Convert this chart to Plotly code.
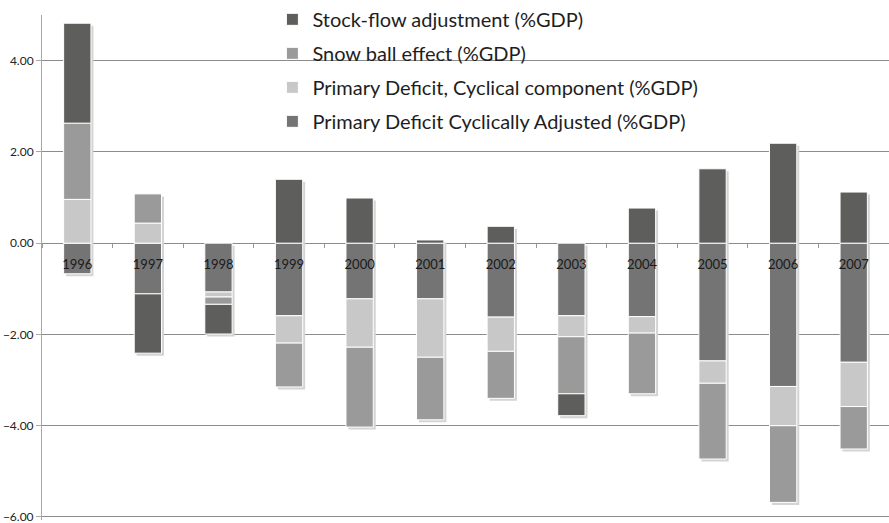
import plotly.graph_objects as go

years = ["1996", "1997", "1998", "1999", "2000", "2001", "2002", "2003", "2004", "2005", "2006", "2007"]
primary_ca = [-0.67, -1.11, -1.07, -1.59, -1.22, -1.22, -1.62, -1.59, -1.61, -2.58, -3.14, -2.61]
primary_cyc = [0.96, 0.44, -0.11, -0.60, -1.06, -1.28, -0.75, -0.46, -0.36, -0.49, -0.86, -0.97]
snow_ball = [1.67, 0.64, -0.16, -0.96, -1.75, -1.37, -1.03, -1.25, -1.33, -1.66, -1.68, -0.93]
stock_flow = [2.19, -1.30, -0.65, 1.40, 0.99, 0.07, 0.37, -0.48, 0.77, 1.63, 2.19, 1.12]

series = [
    ("Primary Deficit Cyclically Adjusted (%GDP)", primary_ca, "#747474", 4),
    ("Primary Deficit, Cyclical component (%GDP)", primary_cyc, "#c8c8c8", 3),
    ("Snow ball effect (%GDP)", snow_ball, "#9a9a9a", 2),
    ("Stock-flow adjustment (%GDP)", stock_flow, "#5e5e5c", 1),
]

BAR_W = 0.387
FONT = "Lato"
Y_RANGE = [-6.066, 5.0]
Y_BOTTOM_GRID = [-6]

fig = go.Figure()

# drop shadow behind each stacked column (derived from the data totals)
cols = list(zip(primary_ca, primary_cyc, snow_ball, stock_flow))
pos_tot = [sum(v for v in vals if v > 0) for vals in cols]
neg_tot = [sum(v for v in vals if v < 0) for vals in cols]
dy = 0.055
fig.add_trace(go.Bar(
    x=years, y=[p - n for p, n in zip(pos_tot, neg_tot)], base=[n - dy for n in neg_tot],
    width=BAR_W, offset=-BAR_W / 2 + 0.035,
    marker=dict(color="#d4d4d4", line=dict(width=0)),
    showlegend=False, hoverinfo="skip", xaxis="x", yaxis="y",
))

for i, (name, vals, col, rank) in enumerate(series):
    fig.add_trace(go.Bar(
        x=years, y=vals, name=name, width=BAR_W,
        marker=dict(color=col, line=dict(color="white", width=1)),
        legendgroup=f"g{i}", legendrank=rank, xaxis="x2", yaxis="y2",
    ))

fig.update_layout(
    width=889, height=523,
    margin=dict(l=42, r=0, t=15, b=3, autoexpand=False),
    barmode="relative",
    plot_bgcolor="white", paper_bgcolor="white",
    font=dict(family=FONT, color="#222222"),
    showlegend=True,
    legend=dict(
        x=0.272, y=1.03, xanchor="left", yanchor="top",
        traceorder="grouped", tracegroupgap=5,
        font=dict(family=FONT, size=20, color="#1e1e1e"),
        bgcolor="rgba(0,0,0,0)", borderwidth=0,
    ),
    xaxis=dict(
        type="category", categoryorder="array", categoryarray=years,
        range=[-0.5, 11.5], anchor="free",
        position=(0 - Y_RANGE[0]) / (Y_RANGE[1] - Y_RANGE[0]),
        showgrid=False, showline=False, zeroline=False, automargin=False,
        ticks="outside", ticklen=4, tickcolor="#9a9a9a", tickson="boundaries",
        ticklabelstandoff=12,
        tickfont=dict(family=FONT, size=13, color="#1a1a1a"),
        layer="above traces",
    ),
    xaxis2=dict(
        type="category", categoryorder="array", categoryarray=years,
        range=[-0.5, 11.5], overlaying="x", visible=False,
    ),
    yaxis=dict(
        range=Y_RANGE, tick0=0, dtick=2, tickformat=".2f", automargin=False,
        ticklabeloverflow="allow",
        showgrid=True, gridcolor="#8c8c8c", gridwidth=1,
        zeroline=True, zerolinecolor="#8c8c8c", zerolinewidth=1,
        showline=True, linecolor="#a8a8a8", linewidth=1,
        ticks="outside", ticklen=5, tickcolor="#a8a8a8",
        tickfont=dict(family=FONT, size=12, color="#222222"),
        minor=dict(tickmode="array", tickvals=Y_BOTTOM_GRID, showgrid=True,
                   gridcolor="#8c8c8c", gridwidth=1, ticks=""),
    ),
    yaxis2=dict(range=Y_RANGE, overlaying="y", visible=False),
)

fig.write_html(
    "out.html",
    config={"displayModeBar": False},
    post_script="document.body.style.margin='0px';document.body.style.overflow='hidden';",
)
